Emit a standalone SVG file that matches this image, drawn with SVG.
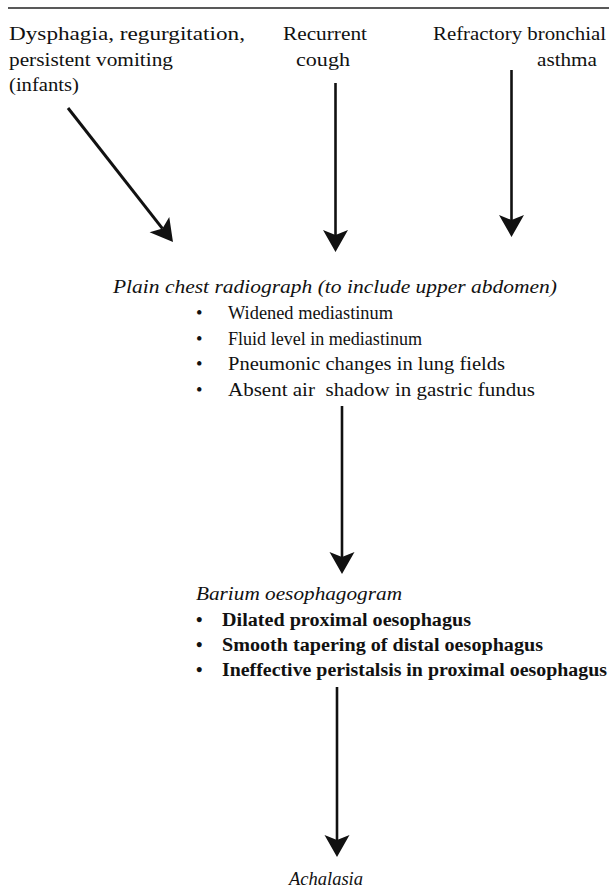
<svg xmlns="http://www.w3.org/2000/svg" width="609" height="891" viewBox="0 0 609 891" font-family="'Liberation Serif', 'Times New Roman', Times, serif">
<style>
  text { font-family: "Liberation Serif", "Times New Roman", Times, serif; fill: #111; }
  .top { font-size: 19.5px; }
  .body { font-size: 18.5px; }
  .it { font-style: italic; }
  .bd { font-weight: bold; }
  .conn line { stroke: #111; stroke-width: 2.6; fill: none; marker-end: url(#ah); }
</style>
<defs>
  <marker id="ah" viewBox="-23 -13 24 26" markerWidth="24" markerHeight="26" refX="-17" refY="0" orient="auto" markerUnits="userSpaceOnUse">
    <path d="M0,0 L-22,-12.5 L-17,0 L-22,12.5 Z" fill="#111"/>
  </marker>
</defs>
<rect width="609" height="891" fill="#fff"/>
<line x1="8" y1="8" x2="609" y2="8" stroke="#222" stroke-width="1.5"/>

<g id="n-dysphagia">
  <text class="top" x="9" y="40" textLength="236" lengthAdjust="spacingAndGlyphs">Dysphagia, regurgitation,</text>
  <text class="top" x="9" y="65.5" textLength="164" lengthAdjust="spacingAndGlyphs">persistent vomiting</text>
  <text class="top" x="9" y="91" textLength="70" lengthAdjust="spacingAndGlyphs">(infants)</text>
</g>
<g id="n-cough">
  <text class="top" x="283" y="40" textLength="84" lengthAdjust="spacingAndGlyphs">Recurrent</text>
  <text class="top" x="296" y="65.5" textLength="54" lengthAdjust="spacingAndGlyphs">cough</text>
</g>
<g id="n-asthma">
  <text class="top" x="433" y="40" textLength="173" lengthAdjust="spacingAndGlyphs">Refractory bronchial</text>
  <text class="top" x="537" y="65.5" textLength="60" lengthAdjust="spacingAndGlyphs">asthma</text>
</g>

<g id="n-radiograph">
  <text class="body it" x="113" y="293" textLength="444" lengthAdjust="spacingAndGlyphs">Plain chest radiograph (to include upper abdomen)</text>
  <text class="body" x="196" y="319">•</text>
  <text class="body" x="228" y="319" textLength="165" lengthAdjust="spacingAndGlyphs">Widened mediastinum</text>
  <text class="body" x="196" y="344.5">•</text>
  <text class="body" x="228" y="344.5" textLength="194" lengthAdjust="spacingAndGlyphs">Fluid level in mediastinum</text>
  <text class="body" x="196" y="370">•</text>
  <text class="body" x="228" y="370" textLength="277" lengthAdjust="spacingAndGlyphs">Pneumonic changes in lung fields</text>
  <text class="body" x="196" y="395.5">•</text>
  <text class="body" x="228" y="395.5" textLength="307" lengthAdjust="spacingAndGlyphs" xml:space="preserve">Absent air  shadow in gastric fundus</text>
</g>

<g id="n-barium">
  <text class="body it" x="196" y="600" textLength="206" lengthAdjust="spacingAndGlyphs">Barium oesophagogram</text>
  <text class="body bd" x="196" y="626">•</text>
  <text class="body bd" x="222" y="626" textLength="249" lengthAdjust="spacingAndGlyphs">Dilated proximal oesophagus</text>
  <text class="body bd" x="196" y="651">•</text>
  <text class="body bd" x="222" y="651" textLength="321" lengthAdjust="spacingAndGlyphs">Smooth tapering of distal oesophagus</text>
  <text class="body bd" x="196" y="676">•</text>
  <text class="body bd" x="222" y="676" textLength="385" lengthAdjust="spacingAndGlyphs">Ineffective peristalsis in proximal oesophagus</text>
</g>

<g id="n-achalasia">
  <text class="body it" x="289" y="885" textLength="74" lengthAdjust="spacingAndGlyphs">Achalasia</text>
</g>

<g id="connectors" class="conn">
  <line x1="68" y1="108" x2="162.5" y2="228.6" style="stroke-width:3"/>
  <line x1="335.5" y1="83" x2="335.5" y2="235"/>
  <line x1="511.5" y1="70" x2="511.5" y2="220"/>
  <line x1="342" y1="406" x2="342" y2="557"/>
  <line x1="337" y1="687" x2="337" y2="840"/>
</g>
</svg>
